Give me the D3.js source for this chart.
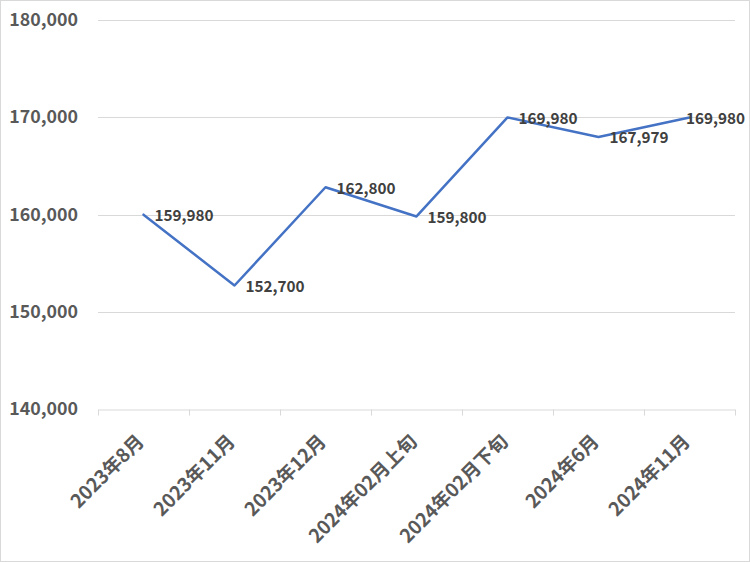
<!DOCTYPE html>
<html><head><meta charset="utf-8">
<script src="https://cdn.jsdelivr.net/npm/d3@7"></script>
<style>
html,body{margin:0;padding:0;background:#fff;}
svg{display:block;font-family:"Noto Sans CJK SC","Noto Sans",sans-serif;}
</style></head>
<body><svg id="c" width="750" height="562"></svg>
<script>
const categories = ["2023年8月","2023年11月","2023年12月","2024年02月上旬","2024年02月下旬","2024年6月","2024年11月"];
const values = [159980,152700,162800,159800,169980,167979,169980];
const yTicks = [140000,150000,160000,170000,180000];

const svg = d3.select("#c");
const W = 750, H = 562;
const m = {left:98, right:15, top:20, bottom:153};

svg.append("rect").attr("x",0.5).attr("y",0.5).attr("width",W-1).attr("height",H-1)
  .attr("fill","#fff").attr("stroke","#d9d9d9");

const x = d3.scaleBand().domain(categories).range([m.left, W-m.right]).padding(0);
const y = d3.scaleLinear().domain([140000,180000]).range([H-m.bottom, m.top]);

// gridlines
svg.append("g").selectAll("line").data(yTicks.slice(1)).join("line")
  .attr("x1",m.left).attr("x2",W-m.right)
  .attr("y1",d=>Math.round(y(d))+0.5).attr("y2",d=>Math.round(y(d))+0.5)
  .attr("stroke","#d9d9d9").attr("stroke-width",1);

// y axis labels
const fmt = d3.format(",");
svg.append("g").selectAll("text").data(yTicks).join("text")
  .attr("x",78).attr("y",d=>y(d)).attr("dy","0.35em")
  .attr("text-anchor","end").attr("font-size",17.8).attr("font-weight","bold")
  .attr("fill","#595959").text(d=>fmt(d));

// x axis
const xAxis = d3.axisBottom(x).tickSize(6).tickFormat("").tickSizeOuter(0);
const gx = svg.append("g").attr("transform",`translate(0,${Math.round(y(140000))+0.5})`).call(xAxis);
gx.select(".domain").attr("stroke","#d9d9d9");
gx.selectAll(".tick").remove();
const bounds = categories.map(c=>x(c)).concat([x(categories[categories.length-1])+x.bandwidth()]);
gx.selectAll("line.bt").data(bounds).join("line").attr("class","bt")
  .attr("x1",d=>Math.round(d)+0.5).attr("x2",d=>Math.round(d)+0.5).attr("y1",0).attr("y2",6)
  .attr("stroke","#d9d9d9");

// x labels
svg.append("g").selectAll("text").data(categories).join("text")
  .attr("transform",d=>`translate(${x(d)+x.bandwidth()/2-3},${y(140000)+29}) rotate(-45)`)
  .attr("text-anchor","end").attr("dy","0.35em")
  .attr("font-size",19).attr("font-weight","bold").attr("fill","#595959")
  .text(d=>d);

// line
const line = d3.line().x((d,i)=>x(categories[i])+x.bandwidth()/2).y(d=>y(d));
svg.append("path").datum(values).attr("d",line)
  .attr("fill","none").attr("stroke","#4472C4").attr("stroke-width",2.5)
  .attr("stroke-linejoin","round").attr("stroke-linecap","round");

// data labels
svg.append("g").selectAll("text").data(values).join("text")
  .attr("x",(d,i)=>x(categories[i])+x.bandwidth()/2+11)
  .attr("y",d=>y(d)+1).attr("dy","0.35em")
  .attr("font-size",15.3).attr("font-weight","bold").attr("fill","#404040")
  .text(d=>fmt(d))
  .each(function(){
    const w = this.getComputedTextLength();
    const x0 = +this.getAttribute("x");
    if (x0 + w > W-5) this.setAttribute("x", W-5-w);
  });
</script></body></html>
